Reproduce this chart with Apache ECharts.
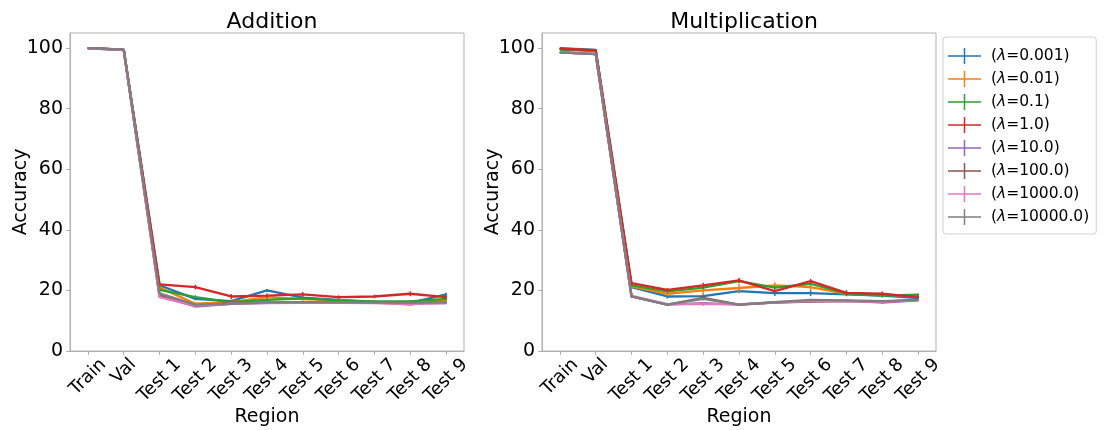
<!DOCTYPE html>
<html><head><meta charset="utf-8">
<script src="https://cdn.jsdelivr.net/npm/echarts@6/dist/echarts.min.js"></script>
<style>html,body{margin:0;padding:0;background:#fff}#c{width:1107px;height:430px}</style>
</head><body><div id="c"></div>
<script>
const categories = ['Train','Val','Test 1','Test 2','Test 3','Test 4','Test 5','Test 6','Test 7','Test 8','Test 9'];
const lambdaLabels = ['0.001','0.01','0.1','1.0','10.0','100.0','1000.0','10000.0'];
const seriesNames = ['(λ=0.001)','(λ=0.01)','(λ=0.1)','(λ=1.0)','(λ=10.0)','(λ=100.0)','(λ=1000.0)','(λ=10000.0)'];
const colors = ['#1f77b4','#ff7f0e','#2ca02c','#d62728','#9467bd','#8c564b','#e377c2','#7f7f7f'];
const yTicks = [0,20,40,60,80,100];

// Addition panel
const addL0001 = [100, 99.5, 21.7, 17.2, 16.5, 20.0, 17.6, 16.9, 16.1, 15.9, 18.7];
const addL001  = [100, 99.5, 21.0, 15.6, 16.1, 17.8, 17.1, 16.7, 16.1, 15.3, 17.0];
const addL01   = [100, 99.5, 20.2, 17.8, 16.1, 16.9, 17.4, 16.7, 16.4, 16.4, 17.2];
const addL1    = [100, 99.5, 22.0, 21.1, 18.0, 18.3, 18.7, 17.8, 18.0, 18.9, 17.8];
const addL10   = [99.9, 99.4, 18.0, 14.7, 15.6, 15.9, 15.9, 15.9, 15.9, 15.8, 15.8];
const addL100  = [99.9, 99.4, 18.4, 15.0, 15.8, 16.0, 16.0, 15.9, 16.0, 15.8, 16.0];
const addL1000 = [99.9, 99.4, 17.8, 15.0, 15.6, 15.8, 15.9, 15.9, 15.8, 15.5, 15.8];
const addL10000= [100, 99.5, 19.0, 15.3, 15.6, 16.1, 16.1, 16.1, 16.0, 15.9, 16.1];

const addE0001 = [0.1,0.1,0.5,0.5,0.4,0.5,0.4,0.4,0.4,0.3,0.5];
const addE001  = [0.1,0.1,0.5,0.5,0.4,0.5,0.4,0.4,0.4,0.4,0.5];
const addE01   = [0.1,0.1,0.5,0.6,0.4,0.5,0.4,0.4,0.4,0.4,0.5];
const addE1    = [0.1,0.1,0.6,0.8,0.8,0.7,0.8,0.6,0.6,0.8,0.6];
const addE10   = [0.1,0.1,0.3,0.3,0.3,0.3,0.3,0.3,0.3,0.3,0.3];
const addE100  = [0.1,0.1,0.3,0.3,0.3,0.3,0.3,0.3,0.3,0.3,0.3];
const addE1000 = [0.1,0.1,0.3,0.3,0.3,0.3,0.3,0.3,0.3,0.3,0.3];
const addE10000= [0.1,0.1,0.3,0.3,0.3,0.3,0.3,0.3,0.3,0.3,0.3];

// Multiplication panel
const mulL0001 = [100, 99.4, 21.1, 18.0, 18.1, 19.8, 19.1, 19.1, 18.7, 18.3, 17.5];
const mulL001  = [99.7, 99.2, 21.3, 18.9, 20.0, 20.8, 21.7, 21.1, 18.9, 18.6, 18.0];
const mulL01   = [99.5, 99.0, 21.7, 19.7, 20.9, 23.1, 20.9, 22.2, 18.9, 18.3, 18.6];
const mulL1    = [99.8, 99.3, 22.4, 20.2, 21.7, 23.3, 19.8, 23.1, 19.2, 18.9, 17.8];
const mulL10   = [98.6, 98.0, 18.0, 15.3, 15.8, 15.3, 16.1, 16.5, 16.6, 16.0, 16.7];
const mulL100  = [98.6, 98.0, 18.0, 15.3, 17.5, 15.3, 16.0, 16.3, 16.5, 16.3, 16.9];
const mulL1000 = [98.7, 98.1, 18.2, 15.5, 15.5, 15.5, 16.0, 16.5, 16.5, 16.2, 16.8];
const mulL10000= [98.6, 98.0, 18.0, 15.3, 17.2, 15.3, 16.1, 16.9, 16.7, 16.5, 16.9];

const mulE0001 = [0.1,0.1,0.5,0.7,0.6,0.7,0.9,1.0,0.6,0.5,0.4];
const mulE001  = [0.1,0.1,0.6,0.8,1.2,1.5,1.0,1.2,0.8,1.0,0.5];
const mulE01   = [0.1,0.1,0.5,0.5,0.6,0.6,0.5,0.6,0.5,0.5,0.4];
const mulE1    = [0.1,0.1,0.6,0.6,0.8,0.8,0.6,0.7,0.9,0.7,0.5];
const mulE10   = [0.1,0.1,0.3,0.3,0.3,0.3,0.3,0.3,0.3,0.3,0.3];
const mulE100  = [0.1,0.1,0.3,0.3,0.6,0.3,0.3,0.3,0.3,0.3,0.3];
const mulE1000 = [0.1,0.1,0.3,0.3,0.6,0.3,0.3,0.3,0.3,0.3,0.3];
const mulE10000= [0.1,0.1,0.3,0.3,0.5,0.3,0.3,0.3,0.3,0.3,0.3];

const addVals = [addL0001, addL001, addL01, addL1, addL10, addL100, addL1000, addL10000];
const addErrs = [addE0001, addE001, addE01, addE1, addE10, addE100, addE1000, addE10000];
const mulVals = [mulL0001, mulL001, mulL01, mulL1, mulL10, mulL100, mulL1000, mulL10000];
const mulErrs = [mulE0001, mulE001, mulE01, mulE1, mulE10, mulE100, mulE1000, mulE10000];

const FONT = 'DejaVu Sans';
const XFS = 18;
const plusIcon = 'path://M0,7.25H33V8.75H0Z M15.75,0H17.25V16H15.75Z';

const measureCtx = document.createElement('canvas').getContext('2d');
measureCtx.font = XFS + 'px "' + FONT + '"';

function xAxis(gi){
  return {
    type:'category', gridIndex:gi, data:categories, boundaryGap:true,
    name:'Region', nameLocation:'middle', nameGap:57, nameMoveOverlap:false,
    nameTextStyle:{fontFamily:FONT, fontSize:19, color:'#000'},
    axisLine:{show:true, lineStyle:{color:'#b0b0b0', width:1}},
    axisTick:{show:true, alignWithLabel:true, length:4, lineStyle:{color:'#b0b0b0'}},
    axisLabel:{show:false, interval:0},
    splitLine:{show:false}
  };
}
function yAxis(gi){
  return {
    type:'value', gridIndex:gi, min:0, max:105, interval:20,
    name:'Accuracy', nameLocation:'middle', nameGap:39, nameMoveOverlap:false,
    nameTextStyle:{fontFamily:FONT, fontSize:19, color:'#000'},
    axisLine:{show:true, lineStyle:{color:'#b0b0b0', width:1}},
    axisTick:{show:true, length:4, lineStyle:{color:'#b0b0b0'}, customValues:yTicks},
    axisLabel:{fontFamily:FONT, fontSize:19, color:'#000', margin:7, customValues:yTicks},
    splitLine:{show:false}
  };
}

const series = [];
function addPanel(vals, errs, gi){
  vals.forEach((v, k) => {
    series.push({
      name: seriesNames[k], type:'line', xAxisIndex:gi, yAxisIndex:gi,
      data: v, symbol:'none', color: colors[k],
      lineStyle:{width:2.3, color: colors[k]}, z: 2 + k*0.01, animation:false
    });
    const e = errs[k];
    series.push({
      name: seriesNames[k], type:'custom', xAxisIndex:gi, yAxisIndex:gi,
      data: v.map((y, i) => [i, y - e[i], y + e[i]]),
      color: colors[k], z: 2 + k*0.01, animation:false,
      renderItem: function(params, api){
        const lo = api.coord([api.value(0), api.value(1)]);
        const hi = api.coord([api.value(0), api.value(2)]);
        return {type:'line', shape:{x1:lo[0], y1:lo[1], x2:hi[0], y2:hi[1]},
                style:{stroke: colors[k], lineWidth:1.5}};
      }
    });
  });
  // rotated category labels, centred under each tick (matplotlib rotation=45 style)
  series.push({
    name:'xlabels'+gi, type:'custom', xAxisIndex:gi, yAxisIndex:gi,
    data: categories.map((c, i) => [i, 0]),
    silent:true, animation:false, clip:false,
    renderItem: function(params, api){
      const i = api.value(0);
      const p = api.coord([i, 0]);
      const txt = categories[i];
      const w = measureCtx.measureText(txt).width;
      const h = XFS * 0.75;
      const off = 6 + (w + h) / (2 * Math.SQRT2);
      return {type:'text', x:p[0], y:p[1] + off, rotation: Math.PI/4,
        style:{text: txt, align:'center', verticalAlign:'middle',
               font: XFS + 'px "' + FONT + '"', fill:'#000'}};
    }
  });
}
addPanel(addVals, addErrs, 0);
addPanel(mulVals, mulErrs, 1);

const chart = echarts.init(document.getElementById('c'), null, {renderer:'canvas'});
chart.setOption({
  backgroundColor:'#fff',
  animation:false,
  title:[
    {text:'Addition', left:267, top:6, textAlign:'center', textStyle:{fontFamily:FONT, fontSize:22, fontWeight:'normal', color:'#000'}},
    {text:'Multiplication', left:739, top:6, textAlign:'center', textStyle:{fontFamily:FONT, fontSize:22, fontWeight:'normal', color:'#000'}}
  ],
  grid:[
    {left:70, right:643, top:33, bottom:79, show:true, borderColor:'#b0b0b0', borderWidth:1, containLabel:false, outerBoundsMode:'none'},
    {left:542, right:171, top:33, bottom:79, show:true, borderColor:'#b0b0b0', borderWidth:1, containLabel:false, outerBoundsMode:'none'}
  ],
  xAxis:[xAxis(0), xAxis(1)],
  yAxis:[yAxis(0), yAxis(1)],
  legend:{
    left:943, top:37, orient:'vertical',
    data: seriesNames.map((n,k)=>({name:n, icon:plusIcon, itemStyle:{color:colors[k]}})),
    itemWidth:33, itemHeight:16, itemGap:7,
    formatter: n => ' ({i|λ}=' + lambdaLabels[seriesNames.indexOf(n)] + ')',
    textStyle:{fontFamily:FONT, fontSize:15.5, color:'#000', lineHeight:16,
      rich:{i:{fontFamily:FONT, fontSize:15.5, fontStyle:'italic', color:'#000', lineHeight:16}}},
    borderColor:'#d0d0d0', borderWidth:1, borderRadius:3,
    padding:[11, 7, 9, 5],
    selectedMode:false
  },
  series: series
});
</script></body></html>
